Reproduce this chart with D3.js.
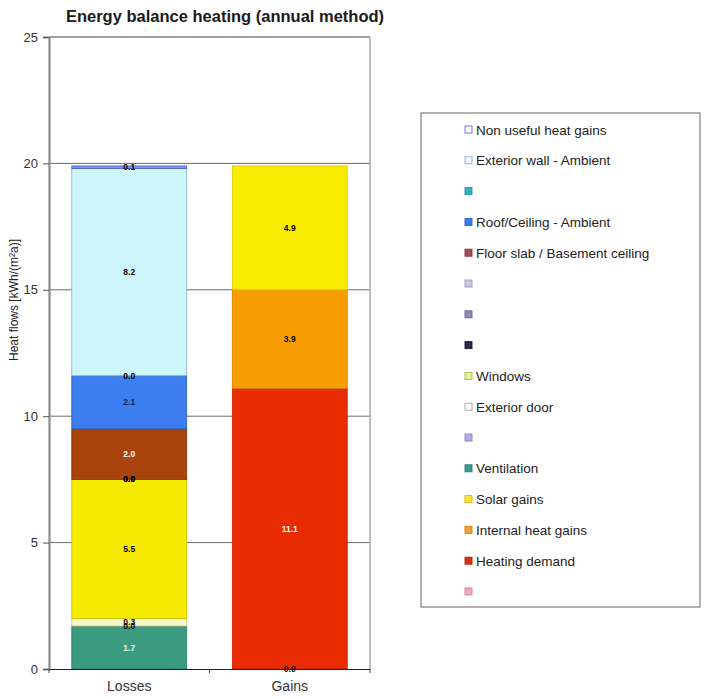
<!DOCTYPE html>
<html>
<head>
<meta charset="utf-8">
<script src="https://cdn.jsdelivr.net/npm/d3@7"></script>
<style>
  body { margin: 0; background: #fff; }
  svg { font-family: "Liberation Sans", Arial, sans-serif; }
</style>
</head>
<body>
<svg id="chart" width="711" height="699"></svg>
<script>
// Bars on the x axis
const categories = ["Losses", "Gains"];

// Series listed in legend order (top of the stack first).
// null = no entry, 0 = entry with a zero value (still labelled).
const seriesNames = [
  "Non useful heat gains", "Exterior wall - Ambient", "", "Roof/Ceiling - Ambient",
  "Floor slab / Basement ceiling", "", "", "", "Windows", "Exterior door", "",
  "Ventilation", "Solar gains", "Internal heat gains", "Heating demand", ""
];
const lossesValues = [0.1, 8.2, 0.0, 2.1, 2.0, 0.0, 0.0, 0.0, 5.5, 0.3, 0.0, 1.7, null, null, null, null];
const gainsValues  = [null, null, null, null, null, null, null, null, null, null, null, null, 4.9, 3.9, 11.1, 0.0];

const seriesFill = ["#7d96ee", "#cdf6fc", "#35b2c8", "#3c7ef0", "#a8440c", "#bcbde0", "#8d8cb4", "#2b2b55",
                    "#f6eb00", "#fbf8c8", "#b9a9e2", "#3b9b7f", "#f8ec00", "#f79d00", "#e82b00", "#f2a8c8"];
const seriesStroke = ["#4a5fc8", "#8aa6c8", "#2a8aa0", "#2a5ec0", "#7a3008", "#9090b8", "#66668e", "#1a1a38",
                      "#c8c000", "#c8c490", "#8f80b8", "#2a7a62", "#d8c800", "#d88000", "#c02000", "#d080a0"];
// legend swatches (some series show an outlined swatch)
const swatchFill = ["#ffffff", "#eefcff", "#35b2c8", "#3c7ef0", "#a0505a", "#c8c8e0", "#8d8cb0", "#2b2b50",
                    "#e8f0a0", "#ffffff", "#b9a9e2", "#3b9b8f", "#f8e040", "#f0a040", "#d83010", "#f0a8c8"];
const swatchStroke = ["#5a70d0", "#8ab0d8", "#2a8aa0", "#2a5ec0", "#7a3038", "#9898c0", "#66668e", "#1a1a38",
                      "#9ac030", "#a0a0b0", "#8f80b8", "#2a7a72", "#e0b000", "#d88000", "#b02000", "#d080a0"];
const labelColor = ["#000", "#000", "#000", "#0a1a55", "#fff", "#000", "#000", "#000",
                    "#000", "#000", "#000", "#e8fff4", "#000", "#000", "#fff", "#000"];

const yTicks = [0, 5, 10, 15, 20, 25];

const svg = d3.select("#chart");
const plot = { left: 49, right: 370, top: 37, bottom: 669 };

const y = d3.scaleLinear().domain([0, 25]).range([plot.bottom, plot.top]);
const x = d3.scaleBand().domain(categories).range([plot.left, plot.right])
  .paddingInner(0.284).paddingOuter(0.142);

// Title
svg.append("text")
  .attr("x", 225).attr("y", 22)
  .attr("text-anchor", "middle")
  .attr("font-size", 16.5).attr("font-weight", "bold").attr("fill", "#1a1a1a")
  .text("Energy balance heating (annual method)");

// Horizontal gridlines
svg.append("g").selectAll("line")
  .data(yTicks.filter(t => t > 0 && t < 25))
  .join("line")
  .attr("x1", plot.left).attr("x2", plot.right)
  .attr("y1", d => y(d)).attr("y2", d => y(d))
  .attr("stroke", "#6a6a6a").attr("stroke-width", 1);

// Plot frame (top and right)
svg.append("line").attr("x1", plot.left).attr("x2", plot.right)
  .attr("y1", plot.top).attr("y2", plot.top).attr("stroke", "#444").attr("stroke-width", 1.2);
svg.append("line").attr("x1", plot.right).attr("x2", plot.right)
  .attr("y1", plot.top).attr("y2", plot.bottom).attr("stroke", "#aaa").attr("stroke-width", 1.5);

// Stacked segments: stack from the bottom (last series) upwards
function stackBar(cat, values) {
  const segs = [];
  let base = 0;
  for (let i = values.length - 1; i >= 0; i--) {
    const v = values[i];
    if (v === null) continue;
    segs.push({ cat, i, v, y0: base, y1: base + v });
    base += v;
  }
  return segs;
}
const segments = stackBar("Losses", lossesValues).concat(stackBar("Gains", gainsValues));

svg.append("g").selectAll("rect")
  .data(segments.filter(d => d.v > 0))
  .join("rect")
  .attr("x", d => x(d.cat))
  .attr("width", x.bandwidth())
  .attr("y", d => y(d.y1))
  .attr("height", d => y(d.y0) - y(d.y1))
  .attr("fill", d => seriesFill[d.i])
  .attr("stroke", d => seriesStroke[d.i])
  .attr("stroke-width", 0.8);

// Value labels
svg.append("g").selectAll("text")
  .data(segments)
  .join("text")
  .attr("x", d => x(d.cat) + x.bandwidth() / 2)
  .attr("y", d => (y(d.y0) + y(d.y1)) / 2 + 3)
  .attr("text-anchor", "middle")
  .attr("font-size", 8.5).attr("font-weight", "bold")
  .attr("fill", d => labelColor[d.i])
  .text(d => d3.format(".1f")(d.v));

// Y axis
const yAxis = svg.append("g")
  .attr("transform", `translate(${plot.left},0)`)
  .call(d3.axisLeft(y).tickValues(yTicks).tickSize(6).tickPadding(5).tickFormat(d3.format("d")));
yAxis.select(".domain").attr("stroke", "#8a8a8a").attr("stroke-width", 2.2);
yAxis.selectAll(".tick line").attr("stroke", "#555");
yAxis.selectAll(".tick text").attr("font-size", 13).attr("fill", "#333")
  .attr("font-family", "Liberation Sans, Arial, sans-serif");

// X axis
const xAxis = svg.append("g")
  .attr("transform", `translate(0,${plot.bottom})`)
  .call(d3.axisBottom(x).tickSize(0).tickPadding(12));
xAxis.select(".domain").attr("stroke", "#222").attr("stroke-width", 1.2);
xAxis.selectAll(".tick text").attr("font-size", 14).attr("fill", "#333")
  .attr("font-family", "Liberation Sans, Arial, sans-serif");
// band separators on the x axis
svg.append("g").selectAll("line")
  .data([plot.left, (x("Losses") + x.bandwidth() + x("Gains")) / 2, plot.right])
  .join("line")
  .attr("x1", d => d).attr("x2", d => d)
  .attr("y1", plot.bottom).attr("y2", plot.bottom + 4)
  .attr("stroke", "#444");

// Y axis title
svg.append("text")
  .attr("transform", "translate(18,300) rotate(-90)")
  .attr("text-anchor", "middle")
  .attr("font-size", 12).attr("fill", "#222")
  .text("Heat flows [kWh/(m²a)]");

// Legend
const legend = svg.append("g");
legend.append("rect")
  .attr("x", 421).attr("y", 113).attr("width", 279).attr("height", 494)
  .attr("fill", "#fff").attr("stroke", "#888").attr("stroke-width", 1.3);
const legY = d3.scaleLinear().domain([0, seriesNames.length - 1]).range([130, 592]);
const item = legend.selectAll("g.item")
  .data(seriesNames.map((name, i) => ({ name, i })))
  .join("g").attr("class", "item")
  .attr("transform", d => `translate(465,${legY(d.i)})`);
item.append("rect")
  .attr("x", 0).attr("y", -4).attr("width", 7).attr("height", 7)
  .attr("fill", d => swatchFill[d.i])
  .attr("stroke", d => swatchStroke[d.i]).attr("stroke-width", 0.9);
item.append("text")
  .attr("x", 11).attr("y", 4.5)
  .attr("font-size", 13.5).attr("fill", "#222")
  .text(d => d.name);
</script>
</body>
</html>
